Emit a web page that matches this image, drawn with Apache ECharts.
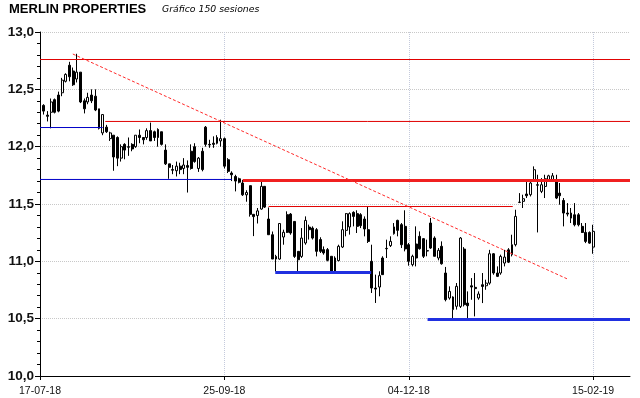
<!DOCTYPE html>
<html>
<head>
<meta charset="utf-8">
<script src="https://cdn.jsdelivr.net/npm/echarts@6/dist/echarts.min.js"></script>
<style>
  html, body { margin: 0; padding: 0; background: #fff; }
  #chart { width: 640px; height: 398px; }
</style>
</head>
<body>
<div id="chart"></div>
<script>
// fechas de los ticks (cada 50 sesiones, indice 0 = 17-07-18)
const tickDates = ['17-07-18', '25-09-18', '04-12-18', '15-02-19']
const tickStep = 50
const axisLength = 160

// velas, sesiones 1..150
const opens = [
  12.36, 12.275, 12.30, 12.41, 12.45, 12.47, 12.57, 12.71, 12.66, 12.59,
  12.65, 12.40, 12.39, 12.45, 12.44, 12.33, 12.12, 12.17, 12.07, 12.10,
  12.08, 11.90, 12.02, 12.00, 12.02, 12.00, 12.10, 12.08, 12.08, 12.14,
  12.13, 12.15, 12.13, 11.97, 11.85, 11.80, 11.79, 11.83, 11.81, 11.835,
  11.96, 12.00, 11.81, 11.96, 12.17, 12.02, 12.03, 12.08, 12.05, 12.07,
  11.886, 11.77, 11.74, 11.72, 11.683, 11.58, 11.66, 11.41, 11.40, 11.456,
  11.654, 11.369, 11.232, 11.043, 11.02, 11.212, 11.407, 11.412, 11.348, 11.087,
  11.043, 11.16, 11.299, 11.29, 11.276, 11.19, 11.102, 11.102, 11.044, 11.029,
  11.006, 11.125, 11.27, 11.30, 11.427, 11.416, 11.407, 11.369, 11.276, 11.00,
  10.767, 10.776, 11.029, 11.113, 11.137, 11.241, 11.357, 11.32, 11.305, 11.145,
  10.971, 11.151, 11.218, 11.198, 11.093, 11.334, 11.203, 11.029, 11.131, 10.898,
  10.68, 10.579, 10.608, 10.607, 11.107, 10.636, 10.787, 10.773, 10.68, 10.796,
  10.787, 10.81, 11.066, 10.898, 10.898, 10.985, 11.10, 11.058, 11.145, 11.516,
  11.523, 11.587, 11.581, 11.712, 11.668, 11.61, 11.653, 11.706, 11.712, 11.712,
  11.595, 11.531, 11.421, 11.377, 11.406, 11.406, 11.305, 11.252, 11.252, 11.124
]
const closes = [
  12.31, 12.265, 12.39, 12.30, 12.31, 12.58, 12.63, 12.61, 12.54, 12.65,
  12.39, 12.33, 12.43, 12.40, 12.32, 12.16, 12.28, 12.13, 12.12, 11.91,
  11.90, 12.00, 11.97, 11.995, 11.98, 12.10, 12.08, 12.06, 12.14, 12.05,
  12.08, 12.08, 12.02, 11.85, 11.82, 11.795, 11.83, 11.80, 11.84, 11.82,
  11.81, 11.87, 11.90, 11.80, 12.02, 12.015, 12.02, 12.03, 12.07, 11.83,
  11.785, 11.755, 11.70, 11.69, 11.58, 11.60, 11.41, 11.39, 11.44, 11.654,
  11.473, 11.232, 11.02, 11.02, 11.33, 11.253, 11.253, 11.247, 11.043, 11.014,
  11.203, 11.357, 11.276, 11.203, 11.087, 11.087, 11.073, 11.009, 10.913, 10.913,
  11.131, 11.276, 11.416, 11.416, 11.392, 11.305, 11.311, 11.282, 11.174, 10.767,
  10.758, 10.875, 10.884, 11.11, 11.174, 11.30, 11.27, 11.145, 11.108, 11.00,
  11.044, 11.029, 11.11, 11.044, 11.09, 11.116, 11.044, 11.096, 10.979, 10.666,
  10.738, 10.689, 10.782, 11.203, 10.622, 10.613, 10.776, 10.762, 10.715, 10.781,
  10.81, 11.066, 10.898, 10.869, 11.043, 11.037, 10.993, 11.145, 11.392, 11.514,
  11.546, 11.572, 11.683, 11.799, 11.664, 11.668, 11.72, 11.746, 11.746, 11.552,
  11.572, 11.421, 11.412, 11.421, 11.319, 11.319, 11.252, 11.174, 11.159, 11.261
]
const lows = [
  12.28, 12.22, 12.16, 12.29, 12.30, 12.44, 12.56, 12.57, 12.53, 12.56,
  12.38, 12.29, 12.37, 12.38, 12.31, 12.15, 12.10, 12.12, 12.05, 11.79,
  11.83, 11.87, 11.89, 11.92, 11.96, 11.99, 12.03, 12.02, 12.06, 12.05,
  12.05, 12.00, 12.01, 11.84, 11.72, 11.76, 11.74, 11.76, 11.76, 11.60,
  11.80, 11.86, 11.78, 11.785, 12.00, 11.99, 11.99, 12.02, 12.00, 11.81,
  11.77, 11.70, 11.61, 11.68, 11.57, 11.52, 11.39, 11.22, 11.33, 11.45,
  11.465, 11.232, 11.02, 10.912, 11.014, 11.145, 11.247, 11.232, 11.03, 10.912,
  11.03, 11.145, 11.19, 11.19, 11.043, 11.073, 11.058, 11.00, 10.907, 10.904,
  11.00, 11.116, 11.218, 11.233, 11.305, 11.247, 11.29, 11.218, 11.16, 10.724,
  10.637, 10.695, 10.884, 11.029, 11.125, 11.233, 11.218, 11.116, 11.087, 10.962,
  10.956, 10.956, 11.102, 11.029, 11.044, 11.108, 11.044, 11.009, 10.971, 10.651,
  10.666, 10.497, 10.579, 10.593, 10.607, 10.497, 10.665, 10.52, 10.665, 10.636,
  10.752, 10.796, 10.883, 10.863, 10.883, 10.956, 10.985, 11.043, 11.13, 11.508,
  11.465, 11.552, 11.566, 11.697, 11.252, 11.595, 11.552, 11.697, 11.697, 11.543,
  11.494, 11.305, 11.392, 11.334, 11.305, 11.305, 11.247, 11.159, 11.153, 11.066
]
const highs = [
  12.37, 12.31, 12.42, 12.42, 12.48, 12.60, 12.64, 12.74, 12.69, 12.81,
  12.65, 12.42, 12.47, 12.50, 12.50, 12.33, 12.28, 12.19, 12.13, 12.10,
  12.09, 12.02, 12.03, 12.08, 12.03, 12.10, 12.15, 12.08, 12.16, 12.21,
  12.14, 12.16, 12.13, 12.02, 11.85, 11.84, 11.87, 11.86, 11.90, 11.88,
  12.02, 12.03, 11.91, 11.99, 12.18, 12.06, 12.09, 12.10, 12.235, 12.08,
  11.90, 11.785, 11.755, 11.73, 11.71, 11.62, 11.66, 11.41, 11.465, 11.71,
  11.654, 11.47, 11.26, 11.057, 11.33, 11.276, 11.436, 11.421, 11.348, 11.087,
  11.29, 11.392, 11.32, 11.305, 11.29, 11.21, 11.13, 11.116, 11.044, 11.044,
  11.145, 11.349, 11.421, 11.427, 11.436, 11.445, 11.42, 11.392, 11.48, 11.145,
  10.884, 10.913, 11.044, 11.189, 11.218, 11.334, 11.363, 11.334, 11.445, 11.16,
  11.058, 11.305, 11.261, 11.203, 11.189, 11.378, 11.218, 11.116, 11.174, 10.951,
  10.782, 10.695, 10.811, 11.212, 11.124, 10.738, 10.854, 10.898, 10.738, 10.898,
  10.84, 11.10, 11.072, 10.956, 11.058, 11.10, 11.115, 11.232, 11.45, 11.595,
  11.581, 11.697, 11.712, 11.828, 11.755, 11.726, 11.755, 11.755, 11.77, 11.755,
  11.683, 11.552, 11.508, 11.465, 11.508, 11.421, 11.334, 11.334, 11.261, 11.319
]

// soportes / resistencias: [sesion inicio, sesion fin, nivel]
const redLines = [[0, 160, 12.76], [17.7, 160, 12.22], [62, 128.2, 11.478]]
const redThick = [[55, 160, 11.705]]
const blueLines = [[0, 17, 12.167], [0, 52, 11.714]]
const blueThick = [[63.8, 89.8, 10.903], [105.1, 160, 10.493]]
// directriz bajista: [sesion, valor] inicio y fin
const trendLine = [[8.9, 12.808], [142.9, 10.848]]

const categories = []
for (let k = 0; k <= axisLength; k++) {
  categories.push(k % tickStep === 0 ? tickDates[k / tickStep] : String(k))
}
const candles = opens.map((o, k) => [k + 1, o, closes[k], lows[k], highs[k]])
const onTick = idx => idx % tickStep === 0

function segSeries(list, style) {
  return list.map(s => ({
    type: 'line',
    xAxisIndex: 1,
    symbol: 'none',
    silent: true,
    z: 5,
    lineStyle: style,
    data: [[s[0], s[2]], [s[1], s[2]]]
  }))
}

const chart = echarts.init(document.getElementById('chart'))
chart.setOption({
  animation: false,
  title: [
    {
      text: 'MERLIN PROPERTIES',
      left: 9,
      top: 3,
      padding: 0,
      textStyle: { fontFamily: 'Liberation Sans', fontWeight: 'bold', fontSize: 13, color: '#000' }
    },
    {
      text: 'Gráfico 150 sesiones',
      left: 162,
      top: 5,
      padding: 0,
      textStyle: { fontFamily: 'DejaVu Sans', fontStyle: 'italic', fontWeight: 'normal', fontSize: 9.3, color: '#000' }
    }
  ],
  grid: { left: 40, right: 10, top: 32, bottom: 22 },
  xAxis: [
    {
      type: 'category',
      data: categories,
      boundaryGap: false,
      axisLine: { lineStyle: { color: '#000', width: 1 } },
      axisTick: { interval: onTick, length: 4, lineStyle: { color: '#000' } },
      axisLabel: {
        interval: onTick,
        margin: 10,
        fontFamily: 'Liberation Sans',
        fontSize: 10.5,
        color: '#111'
      },
      splitLine: { show: true, interval: onTick, lineStyle: { color: '#c4cadc', type: 'dotted' } }
    },
    { type: 'value', min: 0, max: axisLength, show: false }
  ],
  yAxis: {
    type: 'value',
    min: 10,
    max: 13,
    interval: 0.5,
    axisLine: { show: true, lineStyle: { color: '#000', width: 1 } },
    axisTick: { show: true, length: 5, lineStyle: { color: '#000' } },
    minorTick: { show: true, splitNumber: 5, length: 3, lineStyle: { color: '#000' } },
    axisLabel: {
      margin: 6,
      fontFamily: 'Liberation Sans',
      fontWeight: 'bold',
      fontSize: 13.5,
      color: '#111',
      formatter: v => v.toFixed(1).replace('.', ',')
    },
    splitLine: { show: true, lineStyle: { color: '#c8c8c8', type: 'dotted' } }
  },
  series: [
    {
      type: 'candlestick',
      data: candles,
      encode: { x: 0, y: [1, 2, 3, 4] },
      barWidth: 2.4,
      z: 3,
      itemStyle: {
        color: '#ffffff',
        color0: '#000000',
        borderColor: '#000000',
        borderColor0: '#000000',
        borderWidth: 1
      }
    },
    ...segSeries(redLines, { color: '#e00000', width: 1 }),
    ...segSeries(redThick, { color: '#f02020', width: 3 }),
    ...segSeries(blueLines, { color: '#0000c8', width: 1 }),
    ...segSeries(blueThick, { color: '#2030e0', width: 3 }),
    {
      type: 'line',
      xAxisIndex: 1,
      symbol: 'none',
      silent: true,
      z: 6,
      lineStyle: { color: '#ff2a2a', width: 1, type: [3, 2] },
      data: trendLine
    }
  ]
})
</script>
</body>
</html>
